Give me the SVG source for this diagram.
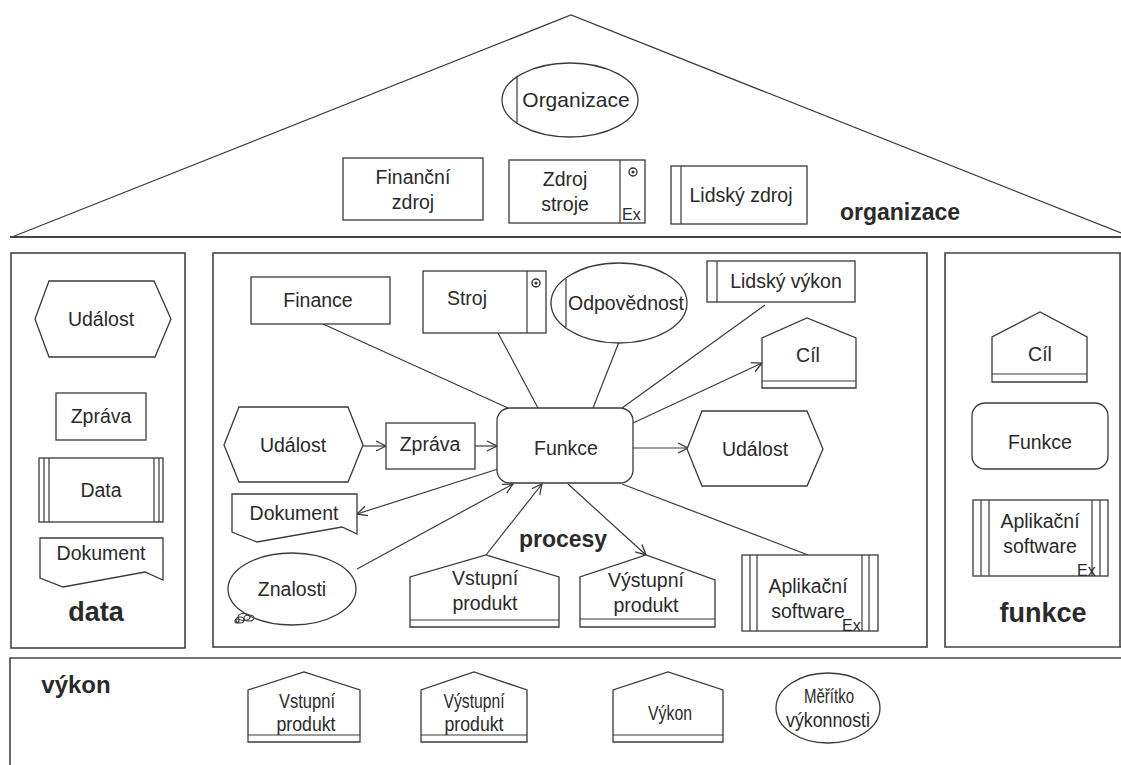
<svg xmlns="http://www.w3.org/2000/svg" width="1121" height="765" viewBox="0 0 1121 765">
  <style>
    .shape { fill: #fff; stroke: #3a3a3a; stroke-width: 1.3; }
    .thin { fill: none; stroke: #3a3a3a; stroke-width: 1.2; }
    .frame { fill: none; stroke: #444; stroke-width: 1.6; }
    .lbl { font-family: "Liberation Sans", Arial, sans-serif; font-size: 19.5px; fill: #2a2a2a; text-anchor: middle; }
    .narrow { font-size: 21px; }
    .ex { font-family: "Liberation Sans", Arial, sans-serif; font-size: 16px; fill: #2a2a2a; }
    .title { font-family: "Liberation Sans", Arial, sans-serif; font-size: 23px; font-weight: bold; fill: #2a2a2a; text-anchor: middle; }
    .link { fill: none; stroke: #3a3a3a; stroke-width: 1.2; }
  </style>
  <defs>
    <marker id="open" viewBox="0 0 12 12" refX="11" refY="6" markerWidth="12" markerHeight="12" markerUnits="userSpaceOnUse" orient="auto">
      <path d="M1,1 L11,6 L1,11" fill="none" stroke="#3a3a3a" stroke-width="1.3"/>
    </marker>
    <g id="machine">
      <circle r="4" fill="none" stroke="#333" stroke-width="1.4"/>
      <circle r="1.6" fill="#333"/>
    </g>
  </defs>

  <rect width="1121" height="765" fill="#fff"/>

  <!-- roof and frames -->
  <g id="frames">
    <polyline class="thin" points="12,237 571,15 1121,233"/>
    <line x1="10" y1="237" x2="1121" y2="237" stroke="#444" stroke-width="2"/>
    <rect class="frame" x="11" y="253" width="174" height="395"/>
    <rect class="frame" x="213" y="253" width="714" height="394"/>
    <polyline class="frame" points="1121,253 945,253 945,647 1121,647"/>
    <line x1="1120" y1="253" x2="1120" y2="647" stroke="#444" stroke-width="1.6"/>
    <polyline class="frame" points="10,765 10,658 1121,658"/>
  </g>

  <!-- organizace -->
  <g id="org-organizace">
    <ellipse class="shape" cx="570" cy="100" rx="68" ry="37"/>
    <line class="thin" x1="517" y1="77" x2="517" y2="123"/>
    <text class="lbl" x="576" y="107" style="font-size:21px">Organizace</text>
  </g>
  <g id="org-financni-zdroj">
    <rect class="shape" x="343" y="158" width="140" height="62"/>
    <text class="lbl" x="413" y="184">Finanční</text>
    <text class="lbl" x="413" y="209">zdroj</text>
  </g>
  <g id="org-zdroj-stroje">
    <rect class="shape" x="509" y="160" width="136" height="63"/>
    <line class="thin" x1="620" y1="160" x2="620" y2="223"/>
    <use href="#machine" x="633" y="172"/>
    <text class="lbl" x="565" y="186">Zdroj</text>
    <text class="lbl" x="565" y="211">stroje</text>
    <text class="ex" x="622" y="220">Ex</text>
  </g>
  <g id="org-lidsky-zdroj">
    <rect class="shape" x="671" y="166" width="136" height="58"/>
    <line class="thin" x1="681" y1="166" x2="681" y2="224"/>
    <text class="lbl" x="741" y="202">Lidský zdroj</text>
  </g>
  <text class="title" x="900" y="220">organizace</text>

  <!-- data -->
  <g id="data-udalost">
    <polygon class="shape" points="35,319 49,281 154,281 171,319 155,357 49,357"/>
    <text class="lbl" x="101" y="326">Událost</text>
  </g>
  <g id="data-zprava">
    <rect class="shape" x="56" y="393" width="90" height="47"/>
    <text class="lbl" x="101" y="423">Zpráva</text>
  </g>
  <g id="data-data">
    <rect class="shape" x="39" y="458" width="124" height="64"/>
    <path class="thin" d="M44,458 V522 M49,458 V522 M154,458 V522 M159,458 V522"/>
    <text class="lbl" x="101" y="497">Data</text>
  </g>
  <g id="data-dokument">
    <path class="shape" d="M40,538 H163 V580 L145,572 L63,587 L40,578 Z"/>
    <text class="lbl" x="101" y="560">Dokument</text>
  </g>
  <text class="title" x="96" y="621" style="font-size:27px">data</text>

  <!-- procesy connectors -->
  <g id="connectors">
    <line class="link" x1="323" y1="324" x2="508" y2="408"/>
    <line class="link" x1="498" y1="333" x2="538" y2="408"/>
    <line class="link" x1="619" y1="342" x2="593" y2="408"/>
    <line class="link" x1="765" y1="305" x2="622" y2="408"/>
    <line class="link" x1="633" y1="423" x2="762" y2="363" marker-end="url(#open)"/>
    <line class="link" x1="363" y1="446" x2="386" y2="446" marker-end="url(#open)"/>
    <line class="link" x1="475" y1="446" x2="497" y2="446" marker-end="url(#open)"/>
    <line class="link" x1="633" y1="448" x2="688" y2="448" marker-end="url(#open)"/>
    <line class="link" x1="498" y1="469" x2="357" y2="514" marker-end="url(#open)"/>
    <line class="link" x1="357" y1="569" x2="513" y2="484" marker-end="url(#open)"/>
    <line class="link" x1="486" y1="555" x2="542" y2="484" marker-end="url(#open)"/>
    <line class="link" x1="568" y1="484" x2="646" y2="555" marker-end="url(#open)"/>
    <line class="link" x1="622" y1="484" x2="808" y2="555"/>
  </g>

  <!-- procesy nodes -->
  <g id="p-finance">
    <rect class="shape" x="251" y="277" width="139" height="47"/>
    <text class="lbl" x="318" y="307">Finance</text>
  </g>
  <g id="p-stroj">
    <rect class="shape" x="423" y="271" width="123" height="62"/>
    <line class="thin" x1="527" y1="271" x2="527" y2="333"/>
    <use href="#machine" x="536" y="283"/>
    <text class="lbl" x="467" y="305">Stroj</text>
  </g>
  <g id="p-odpovednost">
    <ellipse class="shape" cx="619" cy="303" rx="68" ry="40"/>
    <line class="thin" x1="566" y1="279" x2="566" y2="327"/>
    <text class="lbl" x="626" y="310">Odpovědnost</text>
  </g>
  <g id="p-lidsky-vykon">
    <rect class="shape" x="707" y="261" width="148" height="41"/>
    <line class="thin" x1="717" y1="261" x2="717" y2="302"/>
    <text class="lbl" x="786" y="288">Lidský výkon</text>
  </g>
  <g id="p-cil">
    <path class="shape" d="M762,388 V338 L807,318 L856,338 V388 Z"/>
    <line class="thin" x1="762" y1="381" x2="856" y2="381"/>
    <text class="lbl" x="808" y="362">Cíl</text>
  </g>
  <g id="p-udalost-in">
    <polygon class="shape" points="224,445 239,407 348,407 363,445 348,482 239,482"/>
    <text class="lbl" x="293" y="452">Událost</text>
  </g>
  <g id="p-zprava">
    <rect class="shape" x="386" y="423" width="89" height="46"/>
    <text class="lbl" x="430" y="451">Zpráva</text>
  </g>
  <g id="p-funkce">
    <rect class="shape" x="497" y="408" width="136" height="75" rx="13"/>
    <text class="lbl" x="566" y="455">Funkce</text>
  </g>
  <g id="p-udalost-out">
    <polygon class="shape" points="687,449 702,411 807,411 823,449 807,486 702,486"/>
    <text class="lbl" x="755" y="456">Událost</text>
  </g>
  <g id="p-dokument">
    <path class="shape" d="M232,494 H357 V534 L342,527 L257,542 L232,532 Z"/>
    <text class="lbl" x="294" y="520">Dokument</text>
  </g>
  <g id="p-znalosti">
    <ellipse class="shape" cx="292" cy="589" rx="64" ry="36"/>
    <text class="lbl" x="292" y="596">Znalosti</text>
    <g class="thin" stroke-width="1">
      <ellipse cx="244" cy="617" rx="6" ry="3.5"/>
      <ellipse cx="249" cy="618" rx="5" ry="3"/>
      <ellipse cx="240" cy="620" rx="4" ry="3"/>
      <circle cx="237" cy="621" r="2"/>
    </g>
  </g>
  <g id="p-vstupni">
    <path class="shape" d="M410,627 V577 L486,555 L559,577 V627 Z"/>
    <line class="thin" x1="410" y1="620" x2="559" y2="620"/>
    <text class="lbl" x="485" y="585">Vstupní</text>
    <text class="lbl" x="485" y="610">produkt</text>
  </g>
  <g id="p-vystupni">
    <path class="shape" d="M580,627 V577 L646,555 L715,580 V627 Z"/>
    <line class="thin" x1="580" y1="619" x2="715" y2="619"/>
    <text class="lbl" x="646" y="587">Výstupní</text>
    <text class="lbl" x="646" y="612">produkt</text>
  </g>
  <g id="p-aplikacni">
    <rect class="shape" x="742" y="555" width="136" height="76"/>
    <path class="thin" d="M750,555 V631 M757,555 V631 M862,555 V631 M869,555 V631"/>
    <text class="lbl" x="808" y="593">Aplikační</text>
    <text class="lbl" x="808" y="618">software</text>
    <text class="ex" x="842" y="631">Ex</text>
  </g>
  <text class="title" x="563" y="547">procesy</text>

  <!-- funkce -->
  <g id="f-cil">
    <path class="shape" d="M992,382 V337 L1040,312 L1087,337 V382 Z"/>
    <line class="thin" x1="992" y1="374" x2="1087" y2="374"/>
    <text class="lbl" x="1040" y="361">Cíl</text>
  </g>
  <g id="f-funkce">
    <rect class="shape" x="972" y="403" width="136" height="66" rx="13"/>
    <text class="lbl" x="1040" y="449">Funkce</text>
  </g>
  <g id="f-aplikacni">
    <rect class="shape" x="973" y="500" width="135" height="76"/>
    <path class="thin" d="M981,500 V576 M989,500 V576 M1092,500 V576 M1100,500 V576"/>
    <text class="lbl" x="1040" y="528">Aplikační</text>
    <text class="lbl" x="1040" y="553">software</text>
    <text class="ex" x="1077" y="576">Ex</text>
  </g>
  <text class="title" x="1043" y="622" style="font-size:27px">funkce</text>

  <!-- výkon -->
  <text class="title" x="76" y="693" style="font-size:24px">výkon</text>
  <g id="v-vstupni">
    <path class="shape" d="M248,742 V690 L304,672 L360,690 V742 Z"/>
    <line class="thin" x1="248" y1="735" x2="360" y2="735"/>
    <text class="lbl narrow" x="307" y="708" textLength="56" lengthAdjust="spacingAndGlyphs">Vstupní</text>
    <text class="lbl narrow" x="306" y="731" textLength="59" lengthAdjust="spacingAndGlyphs">produkt</text>
  </g>
  <g id="v-vystupni">
    <path class="shape" d="M421,742 V690 L474,672 L527,690 V742 Z"/>
    <line class="thin" x1="421" y1="735" x2="527" y2="735"/>
    <text class="lbl narrow" x="474" y="708" textLength="61" lengthAdjust="spacingAndGlyphs">Výstupní</text>
    <text class="lbl narrow" x="474" y="731" textLength="59" lengthAdjust="spacingAndGlyphs">produkt</text>
  </g>
  <g id="v-vykon">
    <path class="shape" d="M613,742 V690 L668,672 L723,690 V742 Z"/>
    <line class="thin" x1="613" y1="735" x2="723" y2="735"/>
    <text class="lbl narrow" x="670" y="720" textLength="44" lengthAdjust="spacingAndGlyphs">Výkon</text>
  </g>
  <g id="v-meritko">
    <ellipse class="shape" cx="828" cy="708" rx="52" ry="35"/>
    <text class="lbl narrow" x="829" y="703" textLength="50" lengthAdjust="spacingAndGlyphs">Měřítko</text>
    <text class="lbl narrow" x="828" y="727" textLength="84" lengthAdjust="spacingAndGlyphs">výkonnosti</text>
  </g>
</svg>
